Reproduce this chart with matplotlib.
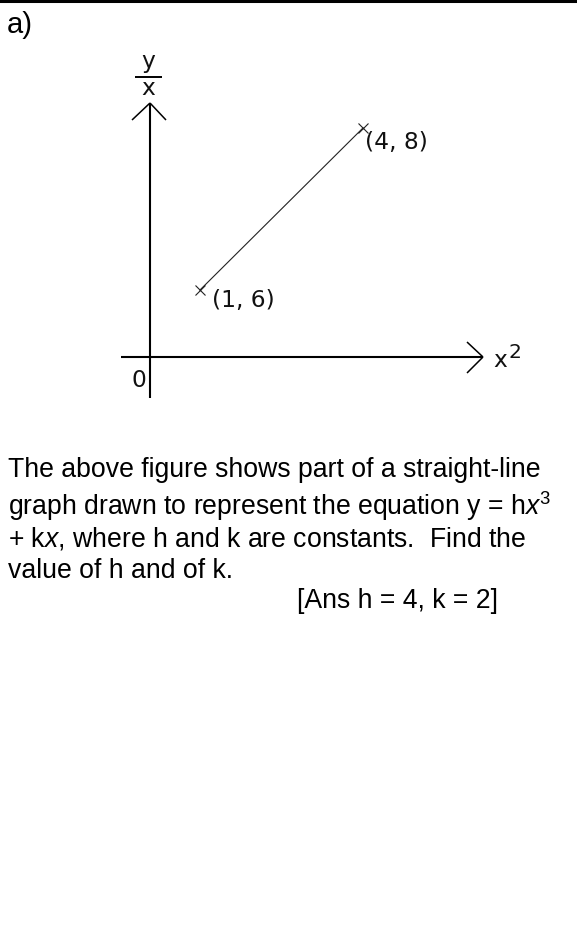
import matplotlib
matplotlib.use("Agg")
import matplotlib.pyplot as plt

# straight-line graph of y/x against x^2
x_sq = [1, 4]
y_over_x = [6, 8]

question_lines = [
    "The above figure shows part of a straight-line",
    "graph drawn to represent the equation y = h$x^3$",
    "+ k$x$, where h and k are constants.  Find the",
    "value of h and of k.",
]
answer = "[Ans h = 4, k = 2]"

W, H = 577, 931
plt.rcParams["font.family"] = ["Liberation Sans", "DejaVu Sans"]
plt.rcParams["mathtext.fontset"] = "custom"
plt.rcParams["mathtext.rm"] = "Liberation Sans"
plt.rcParams["mathtext.it"] = "Liberation Sans:italic"


def px(x, y):
    # pixel position (from top-left) -> figure fraction
    return (x / W, 1 - y / H)


fig = plt.figure(figsize=(W / 100, H / 100), dpi=100)
ax = fig.add_axes([0, 0, 1, 1])
ax.set_xlim(-2.681, 7.939)
ax.set_ylim(-1.914, 9.580)
ax.axis("off")

# top rule
fig.add_artist(plt.Line2D([0, 1], [1 - 1.2 / H] * 2, color="black", lw=2.2))
fig.text(*px(7, 33), "a)", fontsize=21, va="baseline")

# schematic axes
def seg(p, q, lw):
    (x0, y0), (x1, y1) = px(*p), px(*q)
    fig.add_artist(plt.Line2D([x0, x1], [y0, y1], color="black", lw=lw,
                              solid_capstyle="butt"))

seg((150, 104), (150, 398), 1.5)
seg((121, 357), (482, 357), 1.5)
seg((132, 120), (150, 103), 1.1)
seg((166, 120), (150, 103), 1.1)
seg((467, 342), (483, 357), 1.1)
seg((467, 373), (483, 357), 1.1)

lab = dict(family="DejaVu Sans", fontsize=16.8, va="baseline", color="#111")
fig.text(*px(148, 68), "y", ha="center", **lab)
seg((135, 77), (162, 77), 1.4)
fig.text(*px(148, 95), "x", ha="center", **lab)
fig.text(*px(138.5, 387), "0", ha="center", **lab)
fig.text(*px(493, 367), "x", ha="left", **lab)
fig.text(*px(509, 358), "2", ha="left", **{**lab, "fontsize": 14.5})

# the data line with its two plotted points
ax.plot(x_sq, y_over_x, color="#222", lw=0.8)
ax.plot(x_sq, y_over_x, "x", color="#222", ms=7.5, mew=0.8)
offsets = [(12, -17), (2, -21)]
for xv, yv, off in zip(x_sq, y_over_x, offsets):
    ax.annotate(f"({xv}, {yv})", (xv, yv), xytext=off, textcoords="offset pixels",
                ha="left", **lab)

# question text
baselines = [477, 515, 547, 578]
for line, b in zip(question_lines, baselines):
    fig.text(*px(8, b), line, fontsize=19.2, va="baseline")
fig.text(*px(297, 608), answer, fontsize=19.2, va="baseline")

fig.savefig("out.png", dpi=100, facecolor="white")
